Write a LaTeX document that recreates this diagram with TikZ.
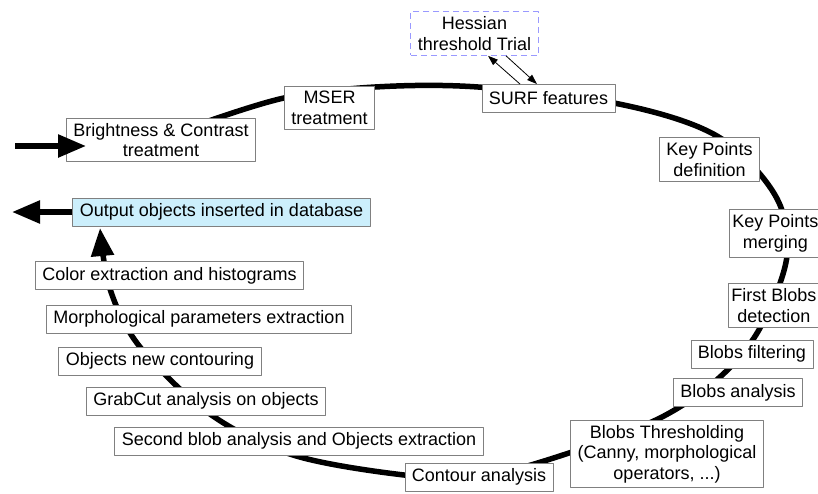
\documentclass[tikz,border=0pt]{standalone}
\usepackage{fontspec}
\setmainfont{Liberation Sans}
\usetikzlibrary{arrows.meta}
\begin{document}
\begin{tikzpicture}[x=1pt, y=-1pt, line join=round,
	font=\fontsize{18}{20.5}\selectfont,
	box/.style={draw=black!50, line width=0.9pt, fill=white, align=center,
		inner xsep=7pt, inner ysep=5pt, minimum height=28pt},
	edgebox/.style={box, inner xsep=3pt, anchor=west},
	trial/.style={box, draw=blue!40, dash pattern=on 6pt off 4pt},
	bigarrow/.style={line width=5.5pt, -{Triangle[length=28pt,width=22pt]}},
	smallarrow/.style={line width=0.8pt, -{Triangle[length=10pt,width=7pt]}}]
	\useasboundingbox (0,0) rectangle (818,493);
	\draw[bigarrow] plot[smooth, tension=0.55] coordinates {(200,124) (284,98) (375,87)
		(478,87) (619,104) (717,136) (775,195) (787,256) (760,328) (720,377) (660,418)
		(569,453) (480,477) (404,475) (293,455) (210,414) (140,347) (110,289) (100,228)};
	\node[box] (bright) at (161,140) {Brightness \& Contrast\\treatment};
	\node[box] (mser) at (329.5,108) {MSER\\treatment};
	\node[box] (surf) at (548.5,98.5) {SURF features};
	\node[trial] (hess) at (474.5,33.5) {Hessian\\threshold Trial};
	\node[box] (kpdef) at (709.5,159.5) {Key Points\\definition};
	\node[edgebox] (kpmerge) at (729,233.5) {Key Points\\merging};
	\node[edgebox] (first) at (728,305.5) {First Blobs\\detection};
	\node[box] (filter) at (752,354) {Blobs filtering};
	\node[box] (banal) at (738,392.5) {Blobs analysis};
	\node[box] (thresh) at (667,454) {Blobs Thresholding\\(Canny, morphological\\operators, ...)};
	\node[box] (contour) at (479,477) {Contour analysis};
	\node[box] (second) at (299,441) {Second blob analysis and Objects extraction};
	\node[box] (grab) at (206,401) {GrabCut analysis on objects};
	\node[box] (newcont) at (160,361) {Objects new contouring};
	\node[box] (morph) at (199,319) {Morphological parameters extraction};
	\node[box] (color) at (169.5,275.5) {Color extraction and histograms};
	\node[box, fill=cyan!20] (output) at (221.5,212) {Output objects inserted in database};
	\coordinate (in) at (15,146);
	\coordinate (out) at (12,212);
	\draw[bigarrow] (in) -- ([xshift=20pt,yshift=-6pt]bright.west);
	\draw[bigarrow] (output.west) -- (out);
	\draw[smallarrow] ([xshift=-28.5pt]surf.north) -- ([xshift=13.5pt]hess.south);
	\draw[smallarrow] ([xshift=31.5pt]hess.south) -- ([xshift=-11.5pt]surf.north);
\end{tikzpicture}
\end{document}
